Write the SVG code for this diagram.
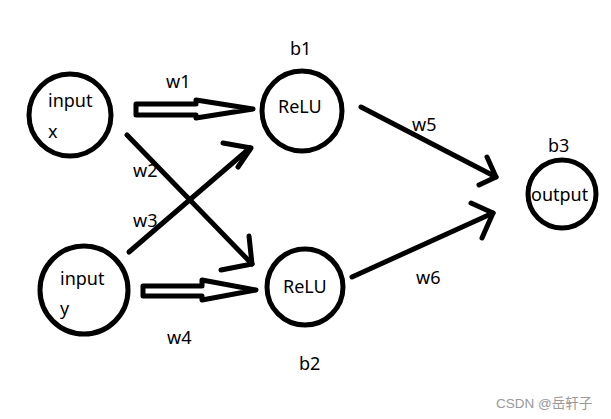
<svg xmlns="http://www.w3.org/2000/svg" width="611" height="419" viewBox="0 0 611 419">
<style>
.node{fill:none;stroke:#000;stroke-width:5}
.t{font-family:"Noto Sans","DejaVu Sans",sans-serif;font-size:18px;fill:#000}
.ln{fill:none;stroke:#000;stroke-width:5;stroke-linecap:round;stroke-linejoin:round}
.wm{font-family:"Liberation Sans","Noto Sans CJK SC",sans-serif;font-size:13.5px;fill:#999}
</style>
<rect width="611" height="419" fill="#fff"/>
<g id="input-x"><circle class="node" cx="70" cy="115" r="41"/><text class="t" x="48" y="107">input</text><text class="t" x="48" y="138">x</text></g>
<g id="input-y"><circle class="node" cx="84" cy="290" r="44"/><text class="t" x="60" y="285">input</text><text class="t" x="60" y="315">y</text></g>
<g id="relu1"><circle class="node" cx="302" cy="111" r="40"/><text class="t" x="278" y="113">ReLU</text><text class="t" x="290" y="55">b1</text></g>
<g id="relu2"><circle class="node" cx="305" cy="287" r="38"/><text class="t" x="283" y="293">ReLU</text><text class="t" x="299" y="370">b2</text></g>
<g id="output"><circle class="node" cx="562" cy="194" r="34"/><text class="t" x="531" y="201">output</text><text class="t" x="548" y="152">b3</text></g>
<g id="connectors">
<polygon class="ln" points="136,104 196,104 196,100 253,109 196,118 196,115 136,115"/>
<polygon class="ln" points="143,286 202,286 202,280 256,290 202,300 202,296 143,296"/>
<line class="ln" x1="127" y1="135" x2="252" y2="264"/>
<polyline class="ln" points="249,236 252,264 221,270"/>
<line class="ln" x1="129" y1="252" x2="250" y2="148"/>
<polyline class="ln" points="223,143 251,148 238,167"/>
<line class="ln" x1="361" y1="107" x2="496" y2="177"/>
<polyline class="ln" points="487,157 496,177 479,185"/>
<line class="ln" x1="352" y1="277" x2="493" y2="213"/>
<polyline class="ln" points="471,203 493,213 482,238"/>
</g>
<g id="labels">
<text class="t" x="166" y="88">w1</text>
<text class="t" x="133" y="177">w2</text>
<text class="t" x="133" y="227">w3</text>
<text class="t" x="167" y="344">w4</text>
<text class="t" x="412" y="131">w5</text>
<text class="t" x="416" y="284">w6</text>
</g>
<text class="wm" x="496" y="408">CSDN @岳轩子</text>
</svg>
